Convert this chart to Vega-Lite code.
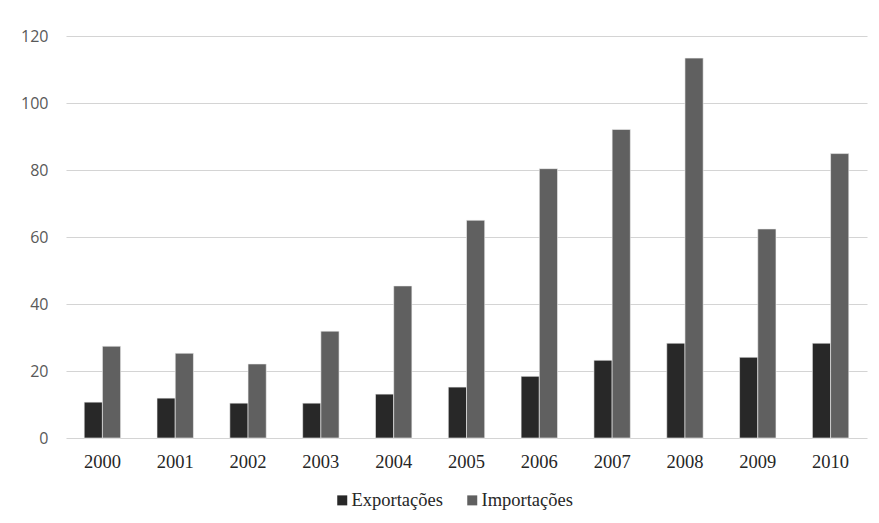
{
  "$schema": "https://vega.github.io/schema/vega-lite/v6.json",
  "autosize": {"type": "none"},
  "width": 801,
  "height": 402,
  "padding": {"left": 66, "top": 36, "right": 12, "bottom": 85},
  "background": "#ffffff",
  "data": {
    "values": [
      {"ano": "2000", "serie": "Exportações", "valor": 10.7},
      {"ano": "2000", "serie": "Importações", "valor": 27.4},
      {"ano": "2001", "serie": "Exportações", "valor": 11.9},
      {"ano": "2001", "serie": "Importações", "valor": 25.3},
      {"ano": "2002", "serie": "Exportações", "valor": 10.4},
      {"ano": "2002", "serie": "Importações", "valor": 22.1},
      {"ano": "2003", "serie": "Exportações", "valor": 10.4},
      {"ano": "2003", "serie": "Importações", "valor": 31.9},
      {"ano": "2004", "serie": "Exportações", "valor": 13.1},
      {"ano": "2004", "serie": "Importações", "valor": 45.4},
      {"ano": "2005", "serie": "Exportações", "valor": 15.2},
      {"ano": "2005", "serie": "Importações", "valor": 65.0},
      {"ano": "2006", "serie": "Exportações", "valor": 18.4},
      {"ano": "2006", "serie": "Importações", "valor": 80.4},
      {"ano": "2007", "serie": "Exportações", "valor": 23.2},
      {"ano": "2007", "serie": "Importações", "valor": 92.1},
      {"ano": "2008", "serie": "Exportações", "valor": 28.3},
      {"ano": "2008", "serie": "Importações", "valor": 113.4},
      {"ano": "2009", "serie": "Exportações", "valor": 24.1},
      {"ano": "2009", "serie": "Importações", "valor": 62.4},
      {"ano": "2010", "serie": "Exportações", "valor": 28.3},
      {"ano": "2010", "serie": "Importações", "valor": 84.9}
    ]
  },
  "mark": {"type": "bar", "stroke": "#f2f2f2", "strokeWidth": 0.6},
  "encoding": {
    "x": {
      "field": "ano",
      "type": "nominal",
      "scale": {"paddingInner": 0.5, "paddingOuter": 0.25},
      "axis": {
        "title": null,
        "labelAngle": 0,
        "ticks": false,
        "domain": false,
        "grid": false,
        "labelFont": "Liberation Serif",
        "labelFontSize": 18.5,
        "labelColor": "#262626",
        "labelPadding": 14
      }
    },
    "xOffset": {"field": "serie", "type": "nominal", "scale": {"paddingInner": 0, "paddingOuter": 0}},
    "y": {
      "field": "valor",
      "type": "quantitative",
      "scale": {"domain": [0, 120], "nice": false},
      "axis": {
        "title": null,
        "values": [0, 20, 40, 60, 80, 100, 120],
        "ticks": false,
        "domain": false,
        "grid": true,
        "gridColor": "#d4d4d4",
        "gridWidth": 1.2,
        "labelFont": "Open Sans",
        "labelFontSize": 16,
        "labelColor": "#595959",
        "labelPadding": 18
      }
    },
    "color": {
      "field": "serie",
      "type": "nominal",
      "scale": {"domain": ["Exportações", "Importações"], "range": ["#282828", "#606060"]},
      "legend": {
        "title": null,
        "orient": "none",
        "direction": "horizontal",
        "legendX": 267,
        "legendY": 455,
        "symbolType": "square",
        "symbolSize": 100,
        "symbolStrokeWidth": 0,
        "labelFont": "Liberation Serif",
        "labelFontSize": 18.5,
        "labelColor": "#262626",
        "labelOffset": 0,
        "columnPadding": 20
      }
    }
  },
  "config": {
    "view": {"stroke": null}
  }
}
